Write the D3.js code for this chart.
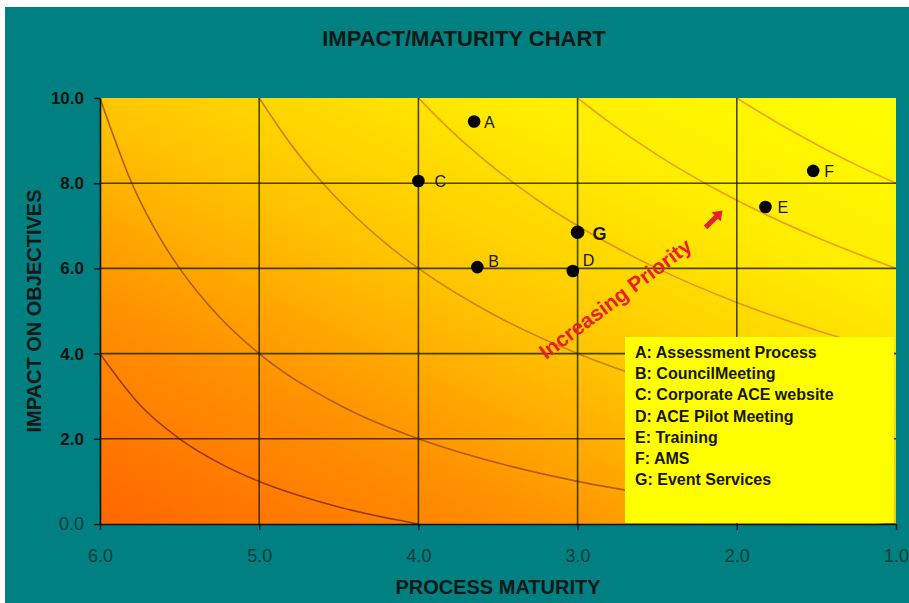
<!DOCTYPE html>
<html>
<head>
<meta charset="utf-8">
<script src="https://cdn.jsdelivr.net/npm/d3@7"></script>
<style>
  html, body { margin: 0; padding: 0; background: #ffffff; }
  svg { display: block; }
  text { font-family: "Liberation Sans", Arial, Helvetica, sans-serif; }
</style>
</head>
<body>
<svg id="chart" width="909" height="603"></svg>
<script>
// Items plotted on the chart
const itemIds   = ["A", "B", "C", "D", "E", "F", "G"];
const itemNames = ["Assessment Process", "CouncilMeeting", "Corporate ACE website",
                   "ACE Pilot Meeting", "Training", "AMS", "Event Services"];
const maturity  = [3.65, 3.63, 4.00, 3.03, 1.82, 1.52, 3.00];
const impact    = [9.45, 6.03, 8.05, 5.94, 7.44, 8.29, 6.85];

// Axis ticks
const xTicks = [6, 5, 4, 3, 2, 1];
const yTicks = [0, 2, 4, 6, 8, 10];

// Priority guide curves, as [maturity, impact] points
const curveP6  = [[6, 4.00], [5.75, 2.80], [5.5, 2.00], [5.25, 1.43], [5, 1.00], [4.75, 0.67], [4.5, 0.40], [4.25, 0.18], [4, 0]];
const curveP12 = [[6, 10], [5.8, 8], [5.6, 6.57], [5.5, 6], [5.25, 4.86], [5, 4], [4.5, 2.8], [4, 2], [3.5, 1.43], [3, 1], [2.5, 0.67], [2, 0.4], [1.5, 0.18], [1, 0]];
const curveP24 = [[5, 10], [4.8, 8.91], [4.6, 8], [4.4, 7.23], [4.2, 6.57], [4, 6], [3.5, 4.86], [3, 4], [2.5, 3.33], [2, 2.8], [1.5, 2.36], [1, 2]];
const curveP36 = [[4, 10], [3.8, 9.25], [3.6, 8.59], [3.4, 8], [3.2, 7.47], [3, 7], [2.5, 6], [2, 5.2], [1.5, 4.55], [1, 4]];
const curveP48 = [[3, 10], [2.8, 9.43], [2.6, 8.91], [2.4, 8.43], [2.2, 8], [2, 7.6], [1.5, 6.73], [1, 6]];
const curveP60 = [[2, 10], [1.75, 9.43], [1.5, 8.91], [1.25, 8.43], [1, 8]];

// ---------------------------------------------------------------
const svg = d3.select("#chart");
const W = 909, H = 603;
const plot = { left: 100, top: 98, right: 896, bottom: 524 };

const x = d3.scaleLinear().domain([6, 1]).range([plot.left, plot.right]);
const y = d3.scaleLinear().domain([0, 10]).range([plot.bottom, plot.top]);

// teal backdrop with thin white edge
svg.append("rect").attr("x", 5).attr("y", 7).attr("width", W - 5).attr("height", H - 7)
  .attr("fill", "#008080");

const defs = svg.append("defs");
const grad = defs.append("linearGradient").attr("id", "bg")
  .attr("gradientUnits", "userSpaceOnUse")
  .attr("x1", plot.left).attr("y1", plot.bottom)
  .attr("x2", 430).attr("y2", -135);
[[0, "#ff6600"], [0.28, "#ff9300"], [0.5, "#ffc400"], [0.75, "#ffec00"], [1, "#ffff00"]]
  .forEach(([o, c]) => grad.append("stop").attr("offset", o).attr("stop-color", c));

defs.append("clipPath").attr("id", "plotClip").append("rect")
  .attr("x", plot.left).attr("y", plot.top)
  .attr("width", plot.right - plot.left).attr("height", plot.bottom - plot.top);

svg.append("rect")
  .attr("x", plot.left).attr("y", plot.top)
  .attr("width", plot.right - plot.left).attr("height", plot.bottom - plot.top)
  .attr("fill", "url(#bg)");

// priority curves
const curves = [curveP6, curveP12, curveP24, curveP36, curveP48, curveP60];
const curveColors = ["#983814", "#b05c12", "#d0800e", "#e69212", "#ee9e18", "#f0a21c"];
const line = d3.line().x(d => x(d[0])).y(d => y(d[1])).curve(d3.curveMonotoneX);
svg.append("g").attr("clip-path", "url(#plotClip)")
  .selectAll("path").data(curves).join("path")
  .attr("d", line)
  .attr("fill", "none")
  .attr("stroke", (d, i) => curveColors[i])
  .attr("stroke-width", 1.6);

// gridlines
const grid = svg.append("g").attr("stroke", "#1e1e00").attr("stroke-opacity", 0.8).attr("stroke-width", 1.6);
grid.selectAll("line.v").data(xTicks.filter(t => t !== 6 && t !== 1)).join("line")
  .attr("class", "v")
  .attr("x1", d => x(d)).attr("x2", d => x(d))
  .attr("y1", plot.top).attr("y2", plot.bottom);
grid.selectAll("line.h").data(yTicks.filter(t => t !== 0 && t !== 10)).join("line")
  .attr("class", "h")
  .attr("x1", plot.left).attr("x2", plot.right)
  .attr("y1", d => y(d)).attr("y2", d => y(d));

// axes
const fmt = d3.format(".1f");
const yAxis = svg.append("g").attr("transform", `translate(${plot.left},0)`)
  .call(d3.axisLeft(y).tickValues(yTicks).tickSize(6).tickSizeOuter(0).tickPadding(10).tickFormat(fmt));
yAxis.selectAll("text")
  .attr("font-weight", d => d === 0 ? "normal" : "bold")
  .attr("font-size", d => d === 0 ? 18 : 17)
  .attr("fill", d => d === 0 ? "#143c3c" : "#111111");

const xAxis = svg.append("g").attr("transform", `translate(0,${plot.bottom})`)
  .call(d3.axisBottom(x).tickValues(xTicks).tickSize(6).tickSizeOuter(0).tickPadding(19).tickFormat(fmt));
xAxis.selectAll("text").attr("font-size", 18).attr("fill", "#143c3c");

svg.selectAll(".domain").attr("stroke", "#111").attr("stroke-width", 1.6);
svg.selectAll(".tick line").attr("stroke", "#111").attr("stroke-width", 1.4);

// item markers and letter labels
const labelOffset = { A: [10, 7], B: [11, 0], C: [16, 6], D: [10, -5], E: [12, 6], F: [11, 6], G: [15, 8] };
const items = itemIds.map((id, i) => ({ id, m: maturity[i], v: impact[i] }));
const pts = svg.append("g");
pts.selectAll("circle").data(items).join("circle")
  .attr("cx", d => x(d.m)).attr("cy", d => y(d.v))
  .attr("r", d => d.id === "G" ? 6.8 : 6.3)
  .attr("fill", "#000");
pts.selectAll("text").data(items).join("text")
  .attr("x", d => x(d.m) + labelOffset[d.id][0])
  .attr("y", d => y(d.v) + labelOffset[d.id][1])
  .attr("font-size", d => d.id === "G" ? 18 : 16)
  .attr("font-weight", d => d.id === "G" ? "bold" : "normal")
  .attr("fill", "#1a1a1a")
  .text(d => d.id);

// key box
const key = svg.append("g");
key.append("rect").attr("x", 625).attr("y", 337).attr("width", 269).attr("height", 186)
  .attr("fill", "#ffff00");
key.selectAll("text").data(itemIds).join("text")
  .attr("x", 635)
  .attr("y", (d, i) => 358 + i * 21.2)
  .attr("font-size", 16).attr("font-weight", "bold").attr("fill", "#161600")
  .text((d, i) => `${d}: ${itemNames[i]}`);

// priority direction note
svg.append("text")
  .attr("transform", "translate(546,360) rotate(-37)")
  .attr("font-size", 21).attr("font-weight", "bold").attr("fill", "#e8202a")
  .text("Increasing Priority");
svg.append("path")
  .attr("d", "M-12,-2.5 L3,-2.5 L3,-6.5 L12,0 L3,6.5 L3,2.5 L-12,2.5 Z")
  .attr("transform", "translate(714,219) rotate(-45)")
  .attr("fill", "#e8202a");

// titles
svg.append("text").attr("x", 464).attr("y", 46).attr("text-anchor", "middle")
  .attr("font-size", 22).attr("font-weight", "bold").attr("fill", "#101818")
  .text("IMPACT/MATURITY CHART");
svg.append("text").attr("x", 498).attr("y", 594).attr("text-anchor", "middle")
  .attr("font-size", 20).attr("font-weight", "bold").attr("fill", "#101818")
  .text("PROCESS MATURITY");
svg.append("text").attr("transform", "translate(41,311) rotate(-90)").attr("text-anchor", "middle")
  .attr("font-size", 20).attr("font-weight", "bold").attr("fill", "#101818")
  .text("IMPACT ON OBJECTIVES");
</script>
</body>
</html>
